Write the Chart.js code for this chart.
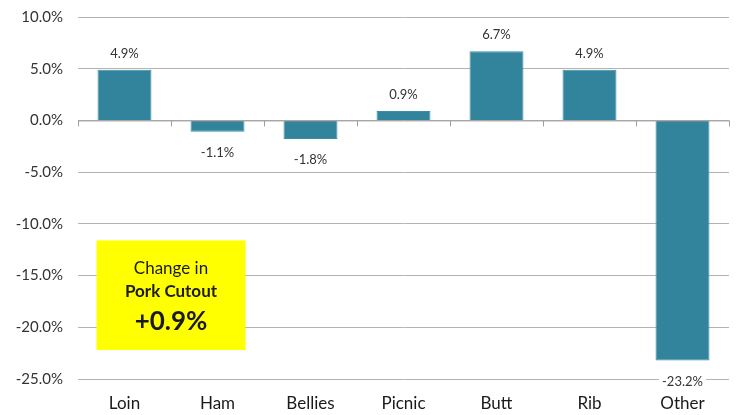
<!DOCTYPE html>
<html>
<head>
<meta charset="utf-8">
<script src="https://cdn.jsdelivr.net/npm/chart.js@4"></script>
<style>
    html, body { margin: 0; padding: 0; background: #ffffff; }
    #wrap { width: 737px; height: 415px; position: relative; }
</style>
</head>
<body>
<div id="wrap"><canvas id="cutoutChart"></canvas></div>
<script>
const categories = ["Loin", "Ham", "Bellies", "Picnic", "Butt", "Rib", "Other"];
const changeValues = [4.9, -1.1, -1.8, 0.9, 6.7, 4.9, -23.2];
const boxLines = ["Change in", "Pork Cutout", "+0.9%"];

const FONT = "Lato, 'Open Sans', sans-serif";
const GRID = "#b3b3b3";

// zero line with category ticks, drawn over the grid
const zeroAxis = {
    id: "zeroAxis",
    afterDatasetsDraw(chart) {
        const ctx = chart.ctx;
        const x = chart.scales.x;
        const y0 = chart.scales.y.getPixelForValue(0);
        const area = chart.chartArea;
        const step = area.width / categories.length;
        ctx.save();
        ctx.strokeStyle = "#a0a0a0";
        ctx.lineWidth = 1;
        ctx.beginPath();
        ctx.moveTo(area.left, y0 + 0.5);
        ctx.lineTo(area.right, y0 + 0.5);
        for (let i = 0; i <= categories.length; i++) {
            const px = Math.round(x.getPixelForValue(0) - step / 2 + i * step) + 0.5;
            ctx.moveTo(px, y0);
            ctx.lineTo(px, y0 + 6);
        }
        ctx.stroke();
        ctx.restore();
    }
};

// value labels above / below each bar
const valueLabels = {
    id: "valueLabels",
    afterDatasetsDraw(chart) {
        const ctx = chart.ctx;
        const meta = chart.getDatasetMeta(0);
        ctx.save();
        ctx.font = "13px " + FONT;
        ctx.textAlign = "center";
        ctx.textBaseline = "middle";
        meta.data.forEach((bar, i) => {
            const v = changeValues[i];
            const text = v.toFixed(1) + "%";
            const w = ctx.measureText(text).width;
            const cy = v >= 0 ? bar.y - 16 : bar.y + 21;
            ctx.fillStyle = "#ffffff";
            ctx.fillRect(bar.x - w / 2 - 3, cy - 7, w + 6, 14);
            ctx.fillStyle = "#333333";
            ctx.fillText(text, bar.x, cy);
        });
        ctx.restore();
    }
};

// yellow call-out box
const calloutBox = {
    id: "calloutBox",
    afterDraw(chart) {
        const ctx = chart.ctx;
        const area = chart.chartArea;
        const step = area.width / categories.length;
        const cx = chart.scales.x.getPixelForValue(0) + step / 2;
        const top = chart.scales.y.getPixelForValue(-11.6);
        const bottom = chart.scales.y.getPixelForValue(-22.2);
        const w = 149;
        ctx.save();
        ctx.fillStyle = "#ffff00";
        ctx.fillRect(cx - w / 2, top, w, bottom - top);
        ctx.fillStyle = "#1a1a1a";
        ctx.textAlign = "center";
        ctx.textBaseline = "middle";
        ctx.font = "17px " + FONT;
        ctx.fillText(boxLines[0], cx, top + 28);
        ctx.font = "bold 17px " + FONT;
        ctx.fillText(boxLines[1], cx, top + 51);
        ctx.font = "bold 26px " + FONT;
        ctx.fillText(boxLines[2], cx, top + 81);
        ctx.restore();
    }
};

new Chart(document.getElementById("cutoutChart"), {
    type: "bar",
    data: {
        labels: categories,
        datasets: [{
            data: changeValues,
            backgroundColor: "#31849b",
            borderColor: "#3a8ea6",
            borderWidth: 1,
            categoryPercentage: 1,
            barPercentage: 0.58
        }]
    },
    options: {
        responsive: true,
        maintainAspectRatio: false,
        animation: false,
        layout: { padding: { top: 0, right: 8, left: 0, bottom: 0 } },
        plugins: {
            legend: { display: false },
            tooltip: { enabled: false }
        },
        scales: {
            x: {
                grid: { display: false, drawTicks: false },
                border: { display: false },
                afterFit(scale) { scale.height = 36; },
                ticks: { color: "#1a1a1a", font: { family: FONT, size: 17 }, padding: 14 }
            },
            y: {
                min: -25,
                max: 10,
                grid: { color: GRID, drawTicks: false },
                border: { display: false },
                afterFit(scale) {
                    scale.width = 78;
                    scale.paddingTop = 17;
                },
                ticks: {
                    stepSize: 5,
                    padding: 15,
                    color: "#333333",
                    font: { family: FONT, size: 15 },
                    callback: (v) => v.toFixed(1) + "%"
                }
            }
        }
    },
    plugins: [zeroAxis, valueLabels, calloutBox]
});
</script>
</body>
</html>
